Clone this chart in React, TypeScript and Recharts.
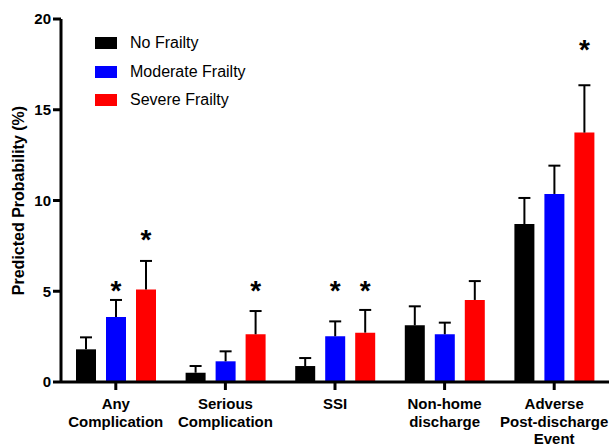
import React from "react";
import { Bar, BarChart, XAxis, YAxis, Legend, LabelList, Label } from "recharts";

const categories = [
  "Any\nComplication",
  "Serious\nComplication",
  "SSI",
  "Non-home\ndischarge",
  "Adverse\nPost-discharge\nEvent",
];

const seriesNames = ["No Frailty", "Moderate Frailty", "Severe Frailty"];
const seriesColors = ["#000000", "#0000ff", "#ff0000"];

// predicted probability (%)
const noFrailty = [1.8, 0.51, 0.88, 3.12, 8.7];
const moderateFrailty = [3.58, 1.14, 2.52, 2.63, 10.36];
const severeFrailty = [5.09, 2.63, 2.72, 4.52, 13.74];

// upper end of the error bars
const noFrailtyHi = [2.46, 0.88, 1.32, 4.17, 10.14];
const moderateFrailtyHi = [4.52, 1.69, 3.34, 3.27, 11.92];
const severeFrailtyHi = [6.67, 3.91, 3.97, 5.56, 16.35];

// height of the significance asterisk (null = none)
const noFrailtySig = [null, null, null, null, null];
const moderateFrailtySig = [5.3, null, 5.3, null, null];
const severeFrailtySig = [8.1, 5.3, 5.3, null, 18.55];

const yTicks = [0, 5, 10, 15, 20];

const data = categories.map((name, i) => ({
  name,
  idx: i,
  none: noFrailty[i],
  moderate: moderateFrailty[i],
  severe: severeFrailty[i],
}));

const FONT = "'Liberation Sans', Arial, sans-serif";

// draws the one-sided whisker and the asterisk, using the bar's own scale
const marks = (vals: number[], hi: number[], sig: (number | null)[]) => (props: any) => {
  const vb = props.viewBox && props.viewBox.width != null ? props.viewBox : props;
  const { x, y, width, height } = vb;
  const i = Number(props.value);
  if (x == null || !(vals[i] > 0)) return null;
  const base = y + height;
  const ppu = height / vals[i];
  const cx = x + width / 2;
  const top = base - hi[i] * ppu;
  const s = sig[i];
  return (
    <g>
      <line x1={cx} x2={cx} y1={y} y2={top} stroke="#000" strokeWidth={2} />
      <line x1={cx - 6} x2={cx + 6} y1={top} y2={top} stroke="#000" strokeWidth={2} />
      {s != null && (
        <text x={cx} y={base - s * ppu + 14} textAnchor="middle" fontFamily={FONT} fontWeight="bold" fontSize={28} fill="#000">
          *
        </text>
      )}
    </g>
  );
};

const CatTick = (props: any) => {
  const { x, y, payload } = props;
  const lines = String(payload.value).split("\n");
  return (
    <g>
      {lines.map((l, k) => (
        <text key={k} x={x} y={y + 17 + k * 17.5} textAnchor="middle" fontFamily={FONT} fontWeight="bold" fontSize={15} fill="#000">
          {l}
        </text>
      ))}
    </g>
  );
};

const LegendBox = () => (
  <div style={{ fontFamily: FONT, fontSize: 16, color: "#000" }}>
    {seriesNames.map((n, i) => (
      <div key={n} style={{ display: "flex", alignItems: "center", height: 28.5 }}>
        <span style={{ display: "inline-block", width: 22, height: 12, background: seriesColors[i], marginRight: 13 }} />
        <span>{n}</span>
      </div>
    ))}
  </div>
);

export default function App() {
  return (
    <div style={{ position: "absolute", left: 0, top: 0, width: 611, height: 444, background: "#fff" }}>
      <BarChart
        width={611}
        height={444}
        data={data}
        margin={{ top: 19, right: 2, bottom: 0, left: 0 }}
        barSize={20}
        barGap={10}
      >
        <XAxis
          dataKey="name"
          interval={0}
          height={62}
          tickSize={8}
          axisLine={{ stroke: "#000", strokeWidth: 3 }}
          tickLine={{ stroke: "#000", strokeWidth: 3 }}
          tick={<CatTick />}
        />
        <YAxis
          width={61}
          domain={[0, 20]}
          ticks={yTicks}
          interval={0}
          tickSize={8}
          axisLine={{ stroke: "#000", strokeWidth: 3 }}
          tickLine={{ stroke: "#000", strokeWidth: 3 }}
          tick={{ fill: "#000", fontSize: 15, fontWeight: "bold", fontFamily: FONT }}
        >
          <Label
            value="Predicted Probability (%)"
            angle={-90}
            position="insideLeft"
            offset={18}
            style={{ textAnchor: "middle", fill: "#000", fontSize: 16, fontWeight: "bold", fontFamily: FONT }}
          />
        </YAxis>
        <Legend
          layout="horizontal"
          verticalAlign="middle"
          align="center"
          content={<LegendBox />}
          wrapperStyle={{ left: 95, top: 29, width: 200, height: 90 }}
        />
        <Bar dataKey="none" name={seriesNames[0]} fill={seriesColors[0]} isAnimationActive={false}>
          <LabelList dataKey="idx" content={marks(noFrailty, noFrailtyHi, noFrailtySig)} />
        </Bar>
        <Bar dataKey="moderate" name={seriesNames[1]} fill={seriesColors[1]} isAnimationActive={false}>
          <LabelList dataKey="idx" content={marks(moderateFrailty, moderateFrailtyHi, moderateFrailtySig)} />
        </Bar>
        <Bar dataKey="severe" name={seriesNames[2]} fill={seriesColors[2]} isAnimationActive={false}>
          <LabelList dataKey="idx" content={marks(severeFrailty, severeFrailtyHi, severeFrailtySig)} />
        </Bar>
      </BarChart>
    </div>
  );
}
